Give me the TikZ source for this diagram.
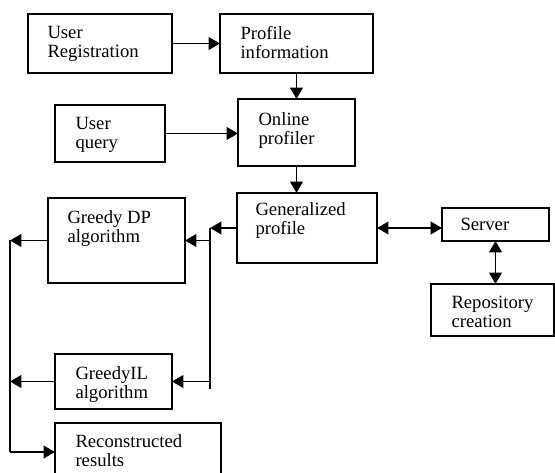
\documentclass[tikz,border=0pt]{standalone}
\usepackage{fontspec}
\setmainfont{Liberation Serif}
\usetikzlibrary{arrows.meta}

\tikzset{every picture/.style={line width=0.75pt}}
\tikzset{
  box/.style={draw,line width=1.8pt,inner sep=0pt,outer sep=0pt},
  txt/.style={anchor=north west,inner sep=0pt,align=left,font=\fontsize{14}{14.3}\selectfont},
  arr/.style={line width=1.3pt,-{Triangle[length=8.5pt,width=9.5pt]}},
  dbl/.style={line width=1.3pt,{Triangle[length=8.5pt,width=9.5pt]}-{Triangle[length=8.5pt,width=9.5pt]}},
  bus/.style={line width=0.9pt}
}

\begin{document}
\begin{tikzpicture}[x=0.75pt,y=0.75pt,yscale=-1,xscale=1]
\useasboundingbox (0,0) rectangle (555,473);

%Shape: Rectangle [id:ur]
\node [box,minimum width=108pt,minimum height=44.25pt] (ur) at (100,43.5) {};
%Shape: Rectangle [id:pi]
\node [box,minimum width=114.75pt,minimum height=44.25pt] (pi) at (296.5,43.5) {};
%Shape: Rectangle [id:uq]
\node [box,minimum width=82.5pt,minimum height=42.75pt] (uq) at (110,133.5) {};
%Shape: Rectangle [id:op]
\node [box,minimum width=87.75pt,minimum height=50.25pt] (op) at (296.5,132.5) {};
%Shape: Rectangle [id:gp]
\node [box,minimum width=105pt,minimum height=52.5pt] (gp) at (307,228) {};
%Shape: Rectangle [id:sv]
\node [box,minimum width=80.25pt,minimum height=24.75pt] (sv) at (495.5,224.5) {};
%Shape: Rectangle [id:rp]
\node [box,minimum width=92.25pt,minimum height=39pt] (rp) at (492.5,310) {};
%Shape: Rectangle [id:gdp]
\node [box,minimum width=102.75pt,minimum height=63.75pt] (gdp) at (116.5,240.5) {};
%Shape: Rectangle [id:gil]
\node [box,minimum width=87.75pt,minimum height=41.25pt] (gil) at (113.5,381.5) {};
%Shape: Rectangle [id:rr]
\node [box,minimum width=124.5pt,minimum height=43.5pt] (rr) at (138,452) {};

%Bus points
\coordinate (bt) at (210,228);
\coordinate (bb) at (210,389);
\coordinate (lt) at (10,240);
\coordinate (lb) at (10,452);

%Straight Lines
\draw [arr] (ur) -- (pi) ;
\draw [arr] (pi) -- (op) ;
\draw [arr] (uq.east) -- (uq.east -| op.west) ;
\draw [arr] (op.south) -- (op.south |- gp.north) ;
\draw [dbl] (gp.east) -- (gp.east -| sv.west) ;
\draw [dbl] (sv.south) -- (sv.south |- rp.north) ;
\draw [arr] (gp.west) -- (bt) ;
\draw [bus] (bt) -- (bb) ;
\draw [arr] (gdp.east -| bt) -- (gdp.east) ;
\draw [arr] (gil.east -| bt) -- (gil.east) ;
\draw [arr] (gdp.west) -- (gdp.west -| lt) ;
\draw [arr] (gil.west) -- (gil.west -| lt) ;
\draw [bus] (lt) -- (lb) ;
\draw [arr] (lb) -- (lb -| rr.west) ;

% Text Node
\node [txt] (turr) at (47,26) {User\\Registration};
% Text Node
\node [txt] (tpi) at (240,26) {Profile\\information};
% Text Node
\node [txt] (tuq) at (75,117) {User\\query};
% Text Node
\node [txt] (top) at (258,112) {Online\\profiler};
% Text Node
\node [txt] (tgp) at (255,202) {Generalized\\profile};
% Text Node
\node [txt] (tsv) at (460,218) {Server};
% Text Node
\node [txt] (trp) at (451,296) {Repository\\creation};
% Text Node
\node [txt] (tgdp) at (67,210) {Greedy DP\\algorithm};
% Text Node
\node [txt] (tgil) at (75,366) {GreedyIL\\algorithm};
% Text Node
\node [txt] (trr) at (75,434) {Reconstructed\\results};

\end{tikzpicture}
\end{document}
